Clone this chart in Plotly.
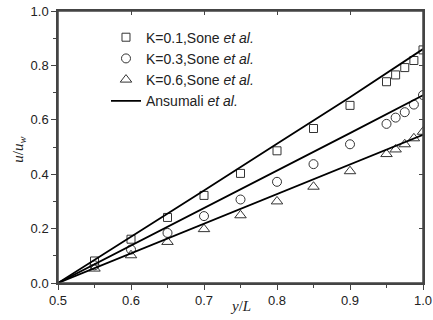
import plotly.graph_objects as go

x_pts = [0.55, 0.60, 0.65, 0.70, 0.75, 0.80, 0.85, 0.90, 0.95, 0.9625, 0.975, 0.9875, 1.0]
k01 = [0.081, 0.161, 0.241, 0.322, 0.403, 0.486, 0.568, 0.653, 0.740, 0.765, 0.792, 0.818, 0.857]
k03 = [0.065, 0.123, 0.184, 0.246, 0.307, 0.372, 0.437, 0.510, 0.585, 0.608, 0.628, 0.656, 0.691]
k06 = [0.053, 0.102, 0.151, 0.198, 0.249, 0.300, 0.354, 0.411, 0.474, 0.491, 0.510, 0.532, 0.556]

x_line = [0.5, 0.6, 0.7, 0.8, 0.9, 1.0]
line01 = [0.0, 0.169, 0.340, 0.512, 0.683, 0.860]
line03 = [0.0, 0.137, 0.275, 0.413, 0.551, 0.690]
line06 = [0.0, 0.109, 0.218, 0.327, 0.436, 0.545]

names = ["K=0.1,Sone <i>et al.</i>", "K=0.3,Sone <i>et al.</i>", "K=0.6,Sone <i>et al.</i>", "Ansumali <i>et al.</i>"]
x_ticks = [0.5, 0.6, 0.7, 0.8, 0.9, 1.0]
y_ticks = [0.0, 0.2, 0.4, 0.6, 0.8, 1.0]

mc = "#333333"
fig = go.Figure()
for ys, sym, nm, sz in [(k01, "square-open", names[0], 8), (k03, "circle-open", names[1], 9), (k06, "triangle-up-open", names[2], 10)]:
    fig.add_trace(go.Scatter(x=x_pts, y=ys, mode="markers", name=nm,
                             marker=dict(symbol=sym, size=sz, color=mc, line=dict(width=1, color=mc))))
for i, ys in enumerate([line01, line03, line06]):
    fig.add_trace(go.Scatter(x=x_line, y=ys, mode="lines", name=names[3], showlegend=(i == 0),
                             line=dict(color="black", width=1.8)))
# invisible trace for mirrored top/right axes (inside ticks)
fig.add_trace(go.Scatter(x=[0.5], y=[0], xaxis="x2", yaxis="y2", mode="markers",
                         marker=dict(opacity=0), showlegend=False, hoverinfo="skip"))

ax_col = "#444444"
tick_font = dict(family="Liberation Sans, Arial", size=13, color="#222222")
title_font = dict(family="Liberation Serif, Times New Roman", size=15, color="#222222")
common = dict(showline=True, mirror=True, linecolor=ax_col, linewidth=1.5, ticks="outside", ticklen=5,
              tickwidth=1, tickcolor=ax_col, showgrid=False, zeroline=False, tickfont=tick_font,
              automargin=False, ticklabeloverflow="allow")

fig.update_layout(
    width=433, height=320,
    margin=dict(l=58, r=10, t=11, b=37),
    plot_bgcolor="white", paper_bgcolor="white",
    xaxis=dict(range=[0.5, 1.0], tickvals=x_ticks, tickformat=".1f",
               minor=dict(dtick=0.05, ticklen=3, ticks="outside", tickcolor=ax_col),
               **common),
    yaxis=dict(range=[0.0, 1.0], tickvals=y_ticks, tickformat=".1f",
               minor=dict(dtick=0.1, ticklen=3, ticks="outside", tickcolor=ax_col),
               **common),
    xaxis2=dict(overlaying="x", side="top", range=[0.5, 1.0], showline=False, automargin=False,
                ticks="inside", ticklen=4, tickcolor=ax_col, tickvals=x_ticks,
                showticklabels=False, showgrid=False, zeroline=False, anchor="y2"),
    yaxis2=dict(overlaying="y", side="right", range=[0.0, 1.0], showline=False, automargin=False,
                ticks="inside", ticklen=4, tickcolor=ax_col, tickvals=y_ticks,
                showticklabels=False, showgrid=False, zeroline=False, anchor="x2"),
    legend=dict(x=0.1315, y=0.961, xanchor="left", yanchor="top", bgcolor="rgba(0,0,0,0)",
                font=dict(family="Liberation Sans, Arial", size=14, color="#222222"),
                tracegroupgap=0),
    showlegend=True,
    shapes=[dict(type="rect", xref="paper", yref="paper", x0=0, x1=1, y0=0, y1=1,
                 line=dict(color=ax_col, width=1.5), fillcolor="rgba(0,0,0,0)", layer="above")],
    annotations=[
        dict(text="<i>y</i>/<i>L</i>", xref="paper", yref="paper", x=0.5, y=-0.085,
             xanchor="center", yanchor="middle", showarrow=False, font=title_font),
        dict(text="<i>u</i>/<i>u</i><sub><i>w</i></sub>", xref="paper", yref="paper", x=-0.107, y=0.49,
             xanchor="center", yanchor="middle", showarrow=False, textangle=-90, font=title_font),
    ],
)

fig.write_html("out.html", config={"displayModeBar": False},
               post_script="document.body.style.margin='0';")
